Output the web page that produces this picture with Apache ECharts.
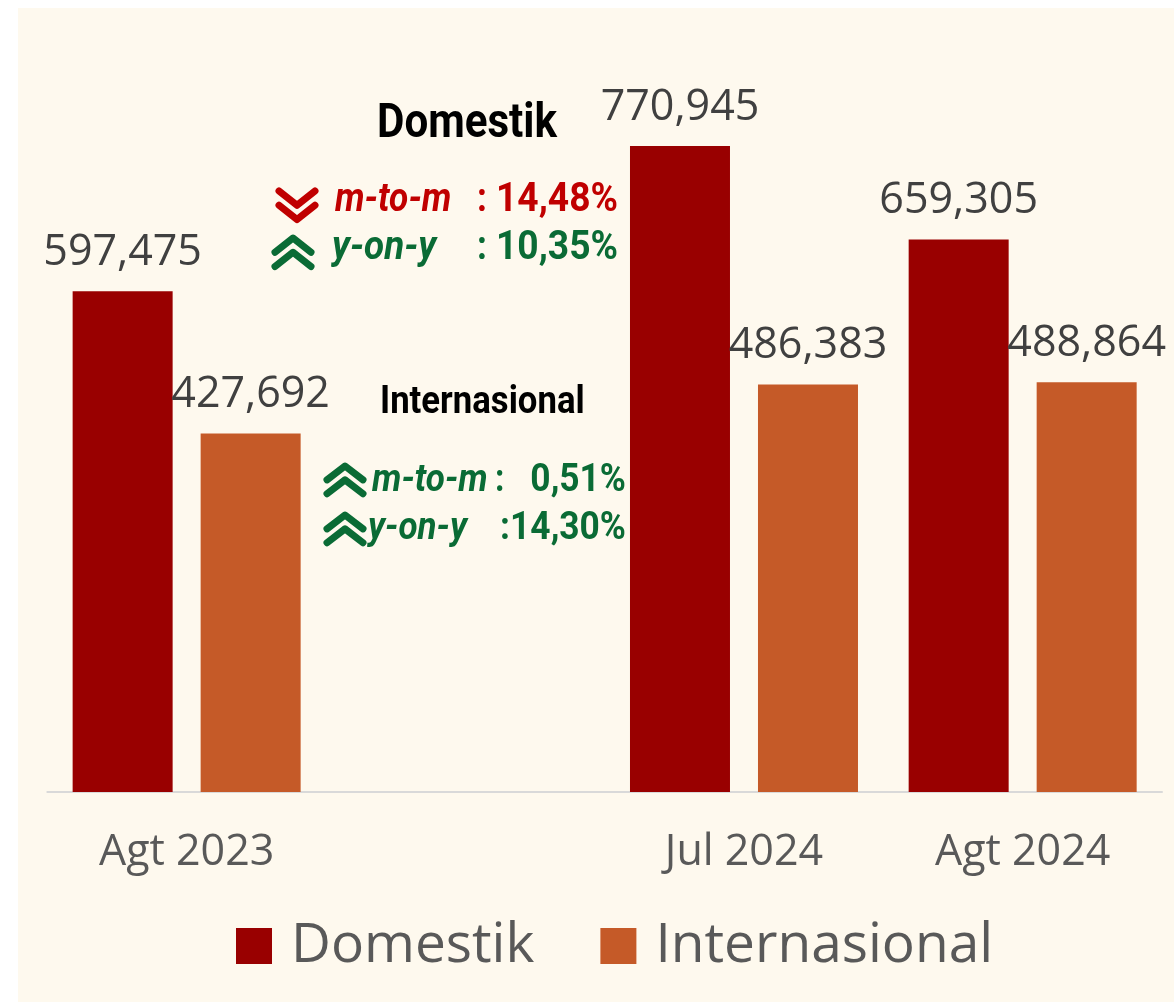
<!DOCTYPE html>
<html>
<head>
<meta charset="utf-8">
<script src="https://cdn.jsdelivr.net/npm/echarts@6/dist/echarts.min.js"></script>
<style>
  html, body { margin: 0; padding: 0; background: #ffffff; }
  #chart { width: 1174px; height: 1002px; }
</style>
</head>
<body>
<div id="chart"></div>
<script>
// Passenger counts per period; the blank slot keeps a gap between 2023 and 2024
const categories = ['Agt 2023', '', 'Jul 2024', 'Agt 2024'];
const domestik = [597475, null, 770945, 659305];
const internasional = [427692, null, 486383, 488864];
const seriesNames = ['Domestik', 'Internasional'];

// Change rates shown in the annotation block
const domestikChange = { mtm: '14,48%', yoy: '10,35%' };
const internasionalChange = { mtm: '0,51%', yoy: '14,30%' };

const RED = '#C00000';
const GREEN = '#0A6B35';
const NOTE_FONT = 'Roboto, "Noto Sans", sans-serif';
const NOTE_SQUEEZE = 0.88; // horizontal squeeze gives the condensed look

function txt(str, x, baseline, size, color, extra) {
  const opts = extra || {};
  return {
    type: 'text',
    x: x,
    y: baseline - 0.35 * size,
    scaleX: opts.squeeze || NOTE_SQUEEZE,
    z: 10,
    style: {
      text: str,
      fill: color,
      font: (opts.italic ? 'italic ' : '') + 'bold ' + size + 'px ' + NOTE_FONT,
      align: opts.align || 'left',
      verticalAlign: 'middle'
    }
  };
}

function chevrons(x, y, w, h, up, color) {
  // two stacked chevrons
  const half = w / 2;
  const step = h * 0.42;
  const depth = h * 0.42;
  const out = [];
  for (let i = 0; i < 2; i++) {
    const y0 = y + i * step;
    const pts = up
      ? [[x, y0 + depth], [x + half, y0], [x + w, y0 + depth]]
      : [[x, y0], [x + half, y0 + depth], [x + w, y0]];
    out.push({
      type: 'polyline',
      z: 10,
      shape: { points: pts },
      style: { stroke: color, lineWidth: 7, lineCap: 'round', lineJoin: 'round', fill: null }
    });
  }
  return out;
}

const fmt = v => (v == null ? '' : v.toLocaleString('en-US'));

const valueLabel = {
  show: true,
  position: 'top',
  distance: 17,
  fontFamily: '"Open Sans", sans-serif',
  fontSize: 43,
  color: '#404040',
  formatter: p => fmt(p.value)
};

const chart = echarts.init(document.getElementById('chart'), null, { renderer: 'canvas' });

chart.setOption({
  backgroundColor: '#ffffff',
  animation: false,
  grid: { left: 47.3, right: 12, top: 121.6, bottom: 210 },
  legend: {
    data: seriesNames,
    left: 236,
    top: 918.5,
    padding: 0,
    icon: 'rect',
    itemWidth: 36,
    itemHeight: 36,
    itemGap: 66,
    textStyle: {
      fontFamily: '"Open Sans", sans-serif',
      fontSize: 55,
      color: '#595959',
      padding: [0, 0, 0, 14]
    }
  },
  xAxis: {
    type: 'category',
    data: categories,
    axisLine: { lineStyle: { color: '#D9D9D9', width: 2 } },
    axisTick: { show: false },
    axisLabel: {
      margin: 39,
      fontFamily: '"Open Sans", sans-serif',
      fontSize: 43,
      color: '#595959'
    }
  },
  yAxis: {
    type: 'value',
    min: 0,
    max: 800000,
    show: false,
    splitLine: { show: false }
  },
  series: [
    {
      name: seriesNames[0],
      type: 'bar',
      data: domestik,
      barWidth: 100,
      barGap: '28%',
      itemStyle: { color: '#990000' },
      label: valueLabel
    },
    {
      name: seriesNames[1],
      type: 'bar',
      data: internasional,
      barWidth: 100,
      itemStyle: { color: '#C55A28' },
      label: valueLabel
    }
  ],
  graphic: {
    elements: [
      {
        type: 'rect',
        z: -10,
        shape: { x: 18, y: 8, width: 1156, height: 994 },
        style: { fill: '#FEF9EE' }
      },
      // Domestik block
      txt('Domestik', 377, 142, 49, '#000000', { squeeze: 0.86 }),
      ...chevrons(279, 191, 36, 34, false, RED),
      txt('m-to-m', 335, 215, 40, RED, { italic: true }),
      txt(':', 477, 215, 40, RED),
      txt(domestikChange.mtm, 618, 215, 40, RED, { align: 'right', squeeze: 0.93 }),
      ...chevrons(275, 238, 36, 34, true, GREEN),
      txt('y-on-y', 332, 263, 40, GREEN, { italic: true, squeeze: 0.92 }),
      txt(':', 477, 263, 40, GREEN),
      txt(domestikChange.yoy, 618, 263, 40, GREEN, { align: 'right', squeeze: 0.93 }),
      // Internasional block
      txt('Internasional', 380, 417, 39, '#000000', { squeeze: 0.89 }),
      ...chevrons(327, 466, 36, 33, true, GREEN),
      txt('m-to-m', 372, 495, 38, GREEN, { italic: true, squeeze: 0.92 }),
      txt(':', 495, 495, 38, GREEN),
      txt(internasionalChange.mtm, 626, 495, 38, GREEN, { align: 'right', squeeze: 0.93 }),
      ...chevrons(327, 515, 36, 33, true, GREEN),
      txt('y-on-y', 368, 543, 38, GREEN, { italic: true, squeeze: 0.92 }),
      txt(':' + internasionalChange.yoy, 626, 543, 38, GREEN, { align: 'right', squeeze: 0.93 })
    ]
  }
});
</script>
</body>
</html>
